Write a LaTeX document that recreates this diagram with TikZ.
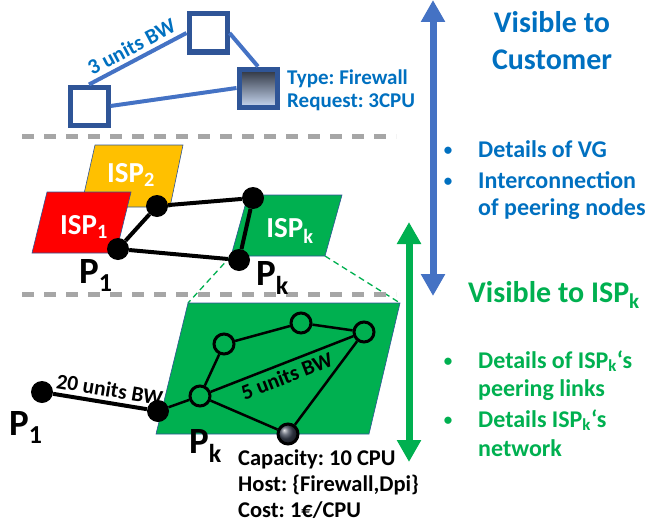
\documentclass[tikz,border=0pt]{standalone}
\usepackage{fontspec}
\setmainfont{Carlito}
\usetikzlibrary{arrows.meta,shapes.geometric}
\definecolor{vblue}{HTML}{4472C4}
\definecolor{dblue}{HTML}{2F5597}
\definecolor{tblue}{HTML}{0070C0}
\definecolor{ispgreen}{HTML}{00B050}
\definecolor{ispyellow}{HTML}{FFC000}
\definecolor{ispred}{HTML}{FF0000}
\definecolor{dgray}{HTML}{A6A6A6}
\definecolor{sqtop}{HTML}{2A303C}
\definecolor{sqbot}{HTML}{C8D8F2}
\definecolor{slate}{HTML}{3E4656}
\newcommand\fsz[1]{\fontsize{#1}{#1}\selectfont}
\frenchspacing
\begin{document}
\begin{tikzpicture}[x=1pt,y=-1pt,
  vsq/.style={draw=dblue, line width=5pt, fill=white, minimum size=38pt, inner sep=0pt},
  vlink/.style={draw=vblue, line width=4pt},
  dot/.style={circle, fill=black, minimum size=22pt, inner sep=0pt},
  odot/.style={circle, fill=ispgreen, draw=black, line width=3pt, minimum size=20pt, inner sep=0pt},
  blink/.style={draw=black, line width=4pt},
  tlink/.style={draw=black, line width=2.5pt},
  sep/.style={draw=dgray, line width=5pt, dash pattern=on 12pt off 10pt},
  isp/.style={draw=dblue, line width=0.6pt},
  isplab/.style={text=white, font=\bfseries\fsz{29}},
  plab/.style={anchor=base west, font=\bfseries\fsz{37}, inner sep=0pt},
  bw/.style={font=\bfseries\fsz{21.5}, inner sep=4pt},
  gdash/.style={draw=ispgreen, line width=1.3pt, dash pattern=on 6pt off 4pt},
  head/.style={anchor=base, font=\bfseries\fsz{30}, inner sep=0pt},
  btxt/.style={anchor=base west, font=\bfseries\fsz{24}, inner sep=0pt},
  bul/.style={anchor=base, font=\bfseries\fsz{17}, inner sep=0pt},
  info/.style={anchor=base west, font=\bfseries\fsz{22.5}, inner sep=0pt},
]
\useasboundingbox (0,0) rectangle (652,527);

% ---------- top: virtual graph ----------
\node[vsq] (sa) at (89,106) {};
\node[vsq] (sb) at (208,33) {};
\node[vsq, top color=sqtop, bottom color=sqbot] (sc) at (258,88) {};
\draw[vlink] (sa.north) -- node[sloped, above, bw, text=tblue] {3 units BW} (sb.west);
\draw[vlink] (sa.east) -- (sc.west);
\draw[vlink] (sb.east) -- (sc.north);
\node[anchor=base west, font=\bfseries\fsz{21}, text=tblue, inner sep=0pt] (tt1) at (287,84) {Type: Firewall};
\node[anchor=base west, font=\bfseries\fsz{21}, text=tblue, inner sep=0pt] (tt2) at (287,107) {Request: 3CPU};

% ---------- separators ----------
\coordinate (s1a) at (22,136); \coordinate (s1b) at (396,136);
\coordinate (s2a) at (22,294); \coordinate (s2b) at (396,294);

% ---------- middle: ISPs ----------
\coordinate (kbl) at (231,256); \coordinate (kbr) at (325,256);
\coordinate (gtl) at (188,303); \coordinate (gtr) at (400,303);
\draw[gdash] (kbl) -- (gtl);
\draw[gdash] (kbr) -- (gtr);
\draw[sep] (s1a) -- (s1b);
\draw[sep] (s2a) -- (s2b);

\filldraw[isp, fill=ispyellow] (95,145) -- (183,145) -- (170,207) -- (81,207) -- cycle;
\filldraw[isp, fill=ispred] (47,192) -- (131,192) -- (116,253) -- (32,253) -- cycle;
\filldraw[isp, fill=ispgreen] (248,195) -- (342,195) -- (kbr) -- (kbl) -- cycle;
\node[isplab] (l2) at (131,175) {ISP\textsubscript{2}};
\node[isplab] (l1) at (84,227) {ISP\textsubscript{1}};
\node[isplab] (lk) at (290,231) {ISP\textsubscript{k}};

\node[dot] (m1) at (118,249) {};
\node[dot] (m2) at (157,206) {};
\node[dot] (m3) at (253,198) {};
\node[dot] (mk) at (239,260) {};
\draw[blink] (m1) -- (m2);
\draw[blink] (m2) -- (m3);
\draw[blink] (m3) -- (mk);
\draw[blink] (mk) -- (m1);
\node[plab] (pl1) at (79,283) {P\textsubscript{1}};
\node[plab] (plk) at (256,285) {P\textsubscript{k}};

% ---------- bottom: ISP_k network ----------
\filldraw[isp, fill=ispgreen] (gtl) -- (gtr) -- (369,434) -- (156,434) -- cycle;
\node[dot] (b1) at (42,392) {};
\node[dot] (bk) at (158,411) {};
\node[odot] (c1) at (200,396) {};
\node[odot] (c2) at (224,344) {};
\node[odot] (c3) at (301,323) {};
\node[odot] (c4) at (364,332) {};
\node[circle, draw=black, line width=3pt, minimum size=20pt, inner sep=0pt, shading=ball, ball color=slate] (cg) at (288,434) {};
\draw[blink] (b1) -- node[sloped, above, bw, pos=0.58] {20 units BW} (bk);
\draw[tlink] (bk) -- (c1);
\draw[tlink] (c1) -- (c2);
\draw[tlink] (c2) -- (c3);
\draw[tlink] (c3) -- (c4);
\draw[tlink] (c1) -- node[sloped, below, bw, pos=0.5] {5 units BW} (c4);
\draw[tlink] (c1) -- (cg);
\draw[tlink] (c4) -- (cg);
\node[plab] (pb1) at (9,435) {P\textsubscript{1}};
\node[plab] (pbk) at (189,453) {P\textsubscript{k}};
\node[info] (i1) at (238,465) {Capacity: 10 CPU};
\node[info] (i2) at (238,491) {Host: \{Firewall,Dpi\}};
\node[info] (i3) at (238,517) {Cost: 1€/CPU};

% ---------- right: visibility ----------
\coordinate (ba) at (433,0); \coordinate (bb) at (433,296);
\draw[vblue, line width=7pt, {Triangle[width=23pt,length=22pt]}-{Triangle[width=23pt,length=22pt]}] (ba) -- (bb);
\coordinate (ga) at (409,222); \coordinate (gb) at (409,462);
\draw[ispgreen, line width=7pt, {Triangle[width=23pt,length=22pt]}-{Triangle[width=23pt,length=22pt]}] (ga) -- (gb);

\node[head, text=tblue] (h1) at (552,33) {Visible to};
\node[head, text=tblue] (h2) at (552,70) {Customer};
\node[bul, text=tblue] (bu1) at (448,155) {•};
\node[btxt, text=tblue] (t1) at (478,157) {Details of VG};
\node[bul, text=tblue] (bu2) at (448,186) {•};
\node[btxt, text=tblue] (t2) at (478,188) {Interconnection};
\node[btxt, text=tblue] (t3) at (478,215) {of peering nodes};

\node[head, anchor=base west, text=ispgreen] (h3) at (468,302) {Visible to ISP\textsubscript{k}};
\node[bul, text=ispgreen] (bu3) at (448,366) {•};
\node[btxt, text=ispgreen] (t4) at (478,368) {Details of ISP\textsubscript{k}‘s};
\node[btxt, text=ispgreen] (t5) at (478,396) {peering links};
\node[bul, text=ispgreen] (bu4) at (448,425) {•};
\node[btxt, text=ispgreen] (t6) at (478,427) {Details ISP\textsubscript{k}‘s};
\node[btxt, text=ispgreen] (t7) at (478,456) {network};
\end{tikzpicture}
\end{document}
